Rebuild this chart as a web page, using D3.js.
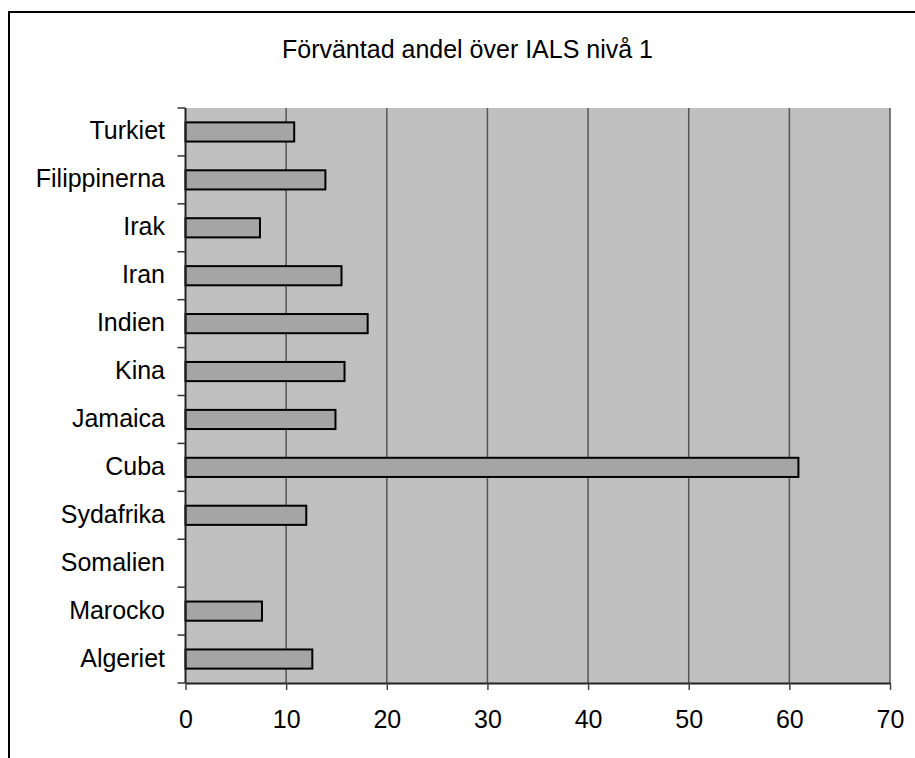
<!DOCTYPE html>
<html>
<head>
<meta charset="utf-8">
<script src="https://cdn.jsdelivr.net/npm/d3@7/dist/d3.min.js"></script>
<style>
	body { margin: 0; background: #fff; }
	svg { display: block; font-family: Arial, "Liberation Sans", sans-serif; }
</style>
</head>
<body>
<div id="chart"></div>
<script>
const title = 'Förväntad andel över IALS nivå 1';
const countries = ['Turkiet', 'Filippinerna', 'Irak', 'Iran', 'Indien', 'Kina',
	'Jamaica', 'Cuba', 'Sydafrika', 'Somalien', 'Marocko', 'Algeriet'];
const shares = [10.8, 13.9, 7.4, 15.5, 18.1, 15.8, 14.9, 60.9, 12.0, null, 7.6, 12.6];
const xTicks = [0, 10, 20, 30, 40, 50, 60, 70];

const width = 915;
const height = 758;
const plot = { left: 185.5, right: 890, top: 108, bottom: 683 };

const svg = d3.select('#chart')
	.append('svg')
	.attr('width', width)
	.attr('height', height);

// outer chart frame (runs off the right/bottom edge)
svg.append('rect')
	.attr('x', 9)
	.attr('y', 12)
	.attr('width', width + 20)
	.attr('height', height + 20)
	.attr('fill', '#fff')
	.attr('stroke', '#000')
	.attr('stroke-width', 2);

svg.append('text')
	.attr('x', 467.5)
	.attr('y', 58)
	.attr('text-anchor', 'middle')
	.attr('font-size', 25)
	.attr('fill', '#000')
	.text(title);

const x = d3.scaleLinear()
	.domain([0, 70])
	.range([plot.left, plot.right]);

const y = d3.scaleBand()
	.domain(countries)
	.range([plot.top, plot.bottom])
	.paddingInner(0.6)
	.paddingOuter(0.3);

// plot area
svg.append('rect')
	.attr('x', plot.left)
	.attr('y', plot.top)
	.attr('width', plot.right - plot.left)
	.attr('height', plot.bottom - plot.top)
	.attr('fill', '#c0c0c0');

// vertical gridlines
svg.append('g')
	.selectAll('line')
	.data(xTicks.slice(1))
	.join('line')
	.attr('x1', (d) => x(d))
	.attr('x2', (d) => x(d))
	.attr('y1', plot.top)
	.attr('y2', plot.bottom)
	.attr('stroke', '#555')
	.attr('stroke-width', 1.5);

// bars
svg.append('g')
	.selectAll('rect')
	.data(countries.map((c, i) => ({ country: c, value: shares[i] }))
		.filter((d) => d.value != null))
	.join('rect')
	.attr('x', x(0))
	.attr('y', (d) => y(d.country))
	.attr('width', (d) => x(d.value) - x(0))
	.attr('height', y.bandwidth())
	.attr('fill', '#a5a5a5')
	.attr('stroke', '#000')
	.attr('stroke-width', 2);

// x axis
const xAxis = svg.append('g')
	.attr('transform', `translate(0,${plot.bottom})`)
	.call(d3.axisBottom(x)
		.tickValues(xTicks)
		.tickSize(7)
		.tickPadding(20)
		.tickSizeOuter(0));

xAxis.select('.domain')
	.attr('stroke', '#222')
	.attr('stroke-width', 2);
xAxis.selectAll('.tick line')
	.attr('stroke', '#444')
	.attr('stroke-width', 1.5);
xAxis.selectAll('.tick text')
	.attr('font-size', 25)
	.attr('font-family', 'Arial, "Liberation Sans", sans-serif')
	.attr('fill', '#000');

// y axis: ticks on band boundaries, labels centred on bands
const yAxis = svg.append('g');
yAxis.append('line')
	.attr('x1', plot.left)
	.attr('x2', plot.left)
	.attr('y1', plot.top)
	.attr('y2', plot.bottom)
	.attr('stroke', '#222')
	.attr('stroke-width', 2);

const step = y.step();
yAxis.selectAll('line.tick')
	.data(d3.range(countries.length + 1))
	.join('line')
	.attr('class', 'tick')
	.attr('x1', plot.left - 8)
	.attr('x2', plot.left)
	.attr('y1', (i) => plot.top + i * step)
	.attr('y2', (i) => plot.top + i * step)
	.attr('stroke', '#333')
	.attr('stroke-width', 1.5);

yAxis.selectAll('text')
	.data(countries)
	.join('text')
	.attr('x', 165)
	.attr('y', (d) => y(d) + y.bandwidth() / 2)
	.attr('dy', '0.3em')
	.attr('text-anchor', 'end')
	.attr('font-size', 25)
	.attr('fill', '#000')
	.text((d) => d);
</script>
</body>
</html>
